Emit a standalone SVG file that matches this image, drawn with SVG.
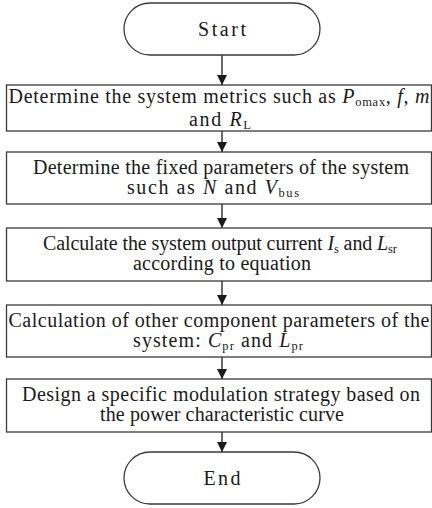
<svg xmlns="http://www.w3.org/2000/svg" width="432" height="508" viewBox="0 0 432 508">
<style>
.box{fill:#fff;stroke:#3a3a3a;stroke-width:1.3}
.t{font-family:"Liberation Serif","Times New Roman",serif;font-size:20px;fill:#1a1a1a;text-anchor:middle}
.i{font-style:italic}
.s{font-size:12.5px}
.c{stroke:#1a1a1a;stroke-width:1.3;fill:none}
</style>
<defs>
<marker id="ah" markerUnits="userSpaceOnUse" markerWidth="12" markerHeight="12" refX="10" refY="5" orient="auto">
<path d="M0,0 L10,5 L0,10 z" fill="#1a1a1a"/>
</marker>
</defs>
<rect width="432" height="508" fill="#fff"/>
<g id="connectors">
<line class="c" x1="222" y1="55" x2="222" y2="85" marker-end="url(#ah)"/>
<line class="c" x1="222" y1="131" x2="222" y2="152" marker-end="url(#ah)"/>
<line class="c" x1="222" y1="204" x2="222" y2="228" marker-end="url(#ah)"/>
<line class="c" x1="222" y1="281" x2="222" y2="305" marker-end="url(#ah)"/>
<line class="c" x1="222" y1="357" x2="222" y2="379" marker-end="url(#ah)"/>
<line class="c" x1="222" y1="432" x2="222" y2="452" marker-end="url(#ah)"/>
</g>
<g id="start">
<rect class="box" x="124" y="3" width="196" height="52" rx="26"/>
<text class="t" x="222" y="36" font-size="21" textLength="48" lengthAdjust="spacing">Start</text>
</g>
<g id="step1">
<rect class="box" x="6.5" y="85" width="425" height="46"/>
<text class="t" x="219" y="103" textLength="421" lengthAdjust="spacing">Determine the system metrics such as <tspan class="i">P</tspan><tspan class="s" dy="3">omax</tspan><tspan dy="-3">,  </tspan><tspan class="i">f</tspan>,  <tspan class="i">m</tspan></text>
<text class="t" x="220" y="126" textLength="62" lengthAdjust="spacing">and <tspan class="i">R</tspan><tspan class="s" dy="3">L</tspan></text>
</g>
<g id="step2">
<rect class="box" x="6.5" y="152" width="425" height="52"/>
<text class="t" x="221" y="174" textLength="376" lengthAdjust="spacing">Determine the fixed parameters of the system</text>
<text class="t" x="213" y="194" textLength="172" lengthAdjust="spacing">such as <tspan class="i">N</tspan> and <tspan class="i">V</tspan><tspan class="s" dy="3">bus</tspan></text>
</g>
<g id="step3">
<rect class="box" x="6.5" y="228" width="425" height="53"/>
<text class="t" x="220" y="250" textLength="354" lengthAdjust="spacing">Calculate the system output current <tspan class="i">I</tspan><tspan class="s" dy="3">s</tspan><tspan dy="-3"> and </tspan><tspan class="i">L</tspan><tspan class="s" dy="3">sr</tspan></text>
<text class="t" x="222" y="270" textLength="178" lengthAdjust="spacing">according to equation</text>
</g>
<g id="step4">
<rect class="box" x="6.5" y="305" width="425" height="52"/>
<text class="t" x="219" y="327" textLength="421" lengthAdjust="spacing">Calculation of other component parameters of the</text>
<text class="t" x="218" y="347" textLength="170" lengthAdjust="spacing">system: <tspan class="i">C</tspan><tspan class="s" dy="3">pr</tspan><tspan dy="-3"> and </tspan><tspan class="i">L</tspan><tspan class="s" dy="3">pr</tspan></text>
</g>
<g id="step5">
<rect class="box" x="6.5" y="379" width="425" height="53"/>
<text class="t" x="221" y="401" textLength="398" lengthAdjust="spacing">Design a specific modulation strategy based on</text>
<text class="t" x="222" y="421" textLength="244" lengthAdjust="spacing">the power characteristic curve</text>
</g>
<g id="end">
<rect class="box" x="124" y="452" width="196" height="52" rx="26"/>
<text class="t" x="222" y="485" font-size="21" textLength="37" lengthAdjust="spacing">End</text>
</g>
</svg>
